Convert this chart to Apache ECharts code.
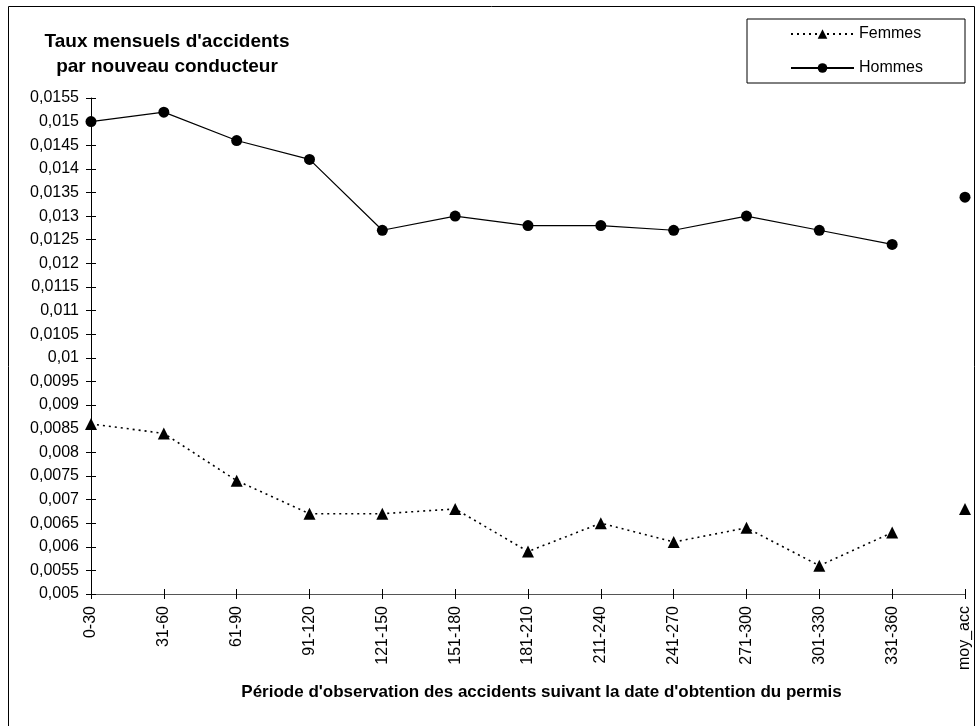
<!DOCTYPE html>
<html>
<head>
<meta charset="utf-8">
<script src="https://cdn.jsdelivr.net/npm/echarts@6/dist/echarts.min.js"></script>
<style>
html,body{margin:0;padding:0;background:#fff;}
#c{width:976px;height:726px;}
</style>
</head>
<body>
<div id="c"></div>
<script>
const categories = ['0-30','31-60','61-90','91-120','121-150','151-180','181-210','211-240','241-270','271-300','301-330','331-360','moy_acc'];
const femmes = [0.0086,0.0084,0.0074,0.0067,0.0067,0.0068,0.0059,0.0065,0.0061,0.0064,0.0056,0.0063];
const hommes = [0.0150,0.0152,0.0146,0.0142,0.0127,0.0130,0.0128,0.0128,0.0127,0.0130,0.0127,0.0124];
const femmesMoy = 0.0068;
const hommesMoy = 0.0134;
const yMin = 0.005, yMax = 0.0155, yStep = 0.0005;

const FONT = "'Liberation Sans', Arial, sans-serif";
const fmt = v => (+v.toFixed(4)).toString().replace('.', ',');

const chart = echarts.init(document.getElementById('c'));
chart.setOption({
  animation: false,
  backgroundColor: '#fff',
  textStyle: { fontFamily: FONT, color: '#000' },
  title: {
    text: "Taux mensuels d'accidents\npar nouveau conducteur",
    left: 162, top: 24, textAlign: 'center',
    textStyle: { fontFamily: FONT, fontSize: 19, fontWeight: 'bold', color: '#000', lineHeight: 25 }
  },
  legend: {
    orient: 'vertical',
    left: 747, top: 19,
    padding: [7, 42, 7, 43],
    borderColor: '#000', borderWidth: 1,
    itemWidth: 63, itemHeight: 12, itemGap: 18,
    textStyle: { fontFamily: FONT, fontSize: 16, color: '#000' },
    data: ['Femmes', 'Hommes']
  },
  grid: { left: 91, right: 11, top: 98, bottom: 132, containLabel: false },
  xAxis: [{
    type: 'category', data: categories, boundaryGap: false,
    axisLine: { lineStyle: { color: '#555', width: 1 } },
    axisTick: { show: true, alignWithLabel: true, length: 5, lineStyle: { color: '#000' } },
    axisLabel: { rotate: 90, fontSize: 16, color: '#000', fontFamily: FONT, margin: 12, interval: 0 },
    splitLine: { show: false },
    name: "Période d'observation des accidents suivant la date d'obtention du permis",
    nameLocation: 'middle', nameGap: 90,
    nameTextStyle: { fontFamily: FONT, fontSize: 17, fontWeight: 'bold', color: '#000', padding: [0, 0, 0, 27] }
  }, {
    type: 'category', data: categories, boundaryGap: false, position: 'bottom',
    axisLine: { show: false },
    axisTick: { show: true, inside: true, length: 5, lineStyle: { color: '#000' } },
    axisLabel: { show: false }, splitLine: { show: false }
  }],
  yAxis: [{
    type: 'value', min: yMin, max: yMax, interval: yStep,
    axisLine: { show: true, lineStyle: { color: '#000', width: 1 } },
    axisTick: { show: true, length: 5, lineStyle: { color: '#000' } },
    axisLabel: { formatter: fmt, fontSize: 16, color: '#000', fontFamily: FONT, margin: 12 },
    splitLine: { show: false }
  }, {
    type: 'value', min: yMin, max: yMax, interval: yStep, position: 'left',
    axisLine: { show: false },
    axisTick: { show: true, inside: true, length: 5, lineStyle: { color: '#000' } },
    axisLabel: { show: false }, splitLine: { show: false }
  }],
  series: [{
    name: 'Femmes', type: 'line',
    data: femmes.concat([null]),
    symbol: 'triangle', symbolSize: 12, showSymbol: true,
    lineStyle: { color: '#000', width: 1.6, type: [2, 4] },
    itemStyle: { color: '#000' },
    connectNulls: false, z: 3
  }, {
    name: 'Hommes', type: 'line',
    data: hommes.concat([null]),
    symbol: 'circle', symbolSize: 11, showSymbol: true,
    lineStyle: { color: '#000', width: 1.2, type: 'solid' },
    itemStyle: { color: '#000' },
    connectNulls: false, z: 3
  }, {
    name: 'Femmes', type: 'scatter',
    data: [[categories[categories.length - 1], femmesMoy]],
    symbol: 'triangle', symbolSize: 12, itemStyle: { color: '#000', opacity: 1 }
  }, {
    name: 'Hommes', type: 'scatter',
    data: [[categories[categories.length - 1], hommesMoy]],
    symbol: 'circle', symbolSize: 11, itemStyle: { color: '#000', opacity: 1 }
  }],
  graphic: [{
    type: 'rect', silent: true, z: -1,
    shape: { x: 8.5, y: 6.5, width: 966, height: 730 },
    style: { fill: 'none', stroke: '#000', lineWidth: 1 }
  }]
});
</script>
</body>
</html>
